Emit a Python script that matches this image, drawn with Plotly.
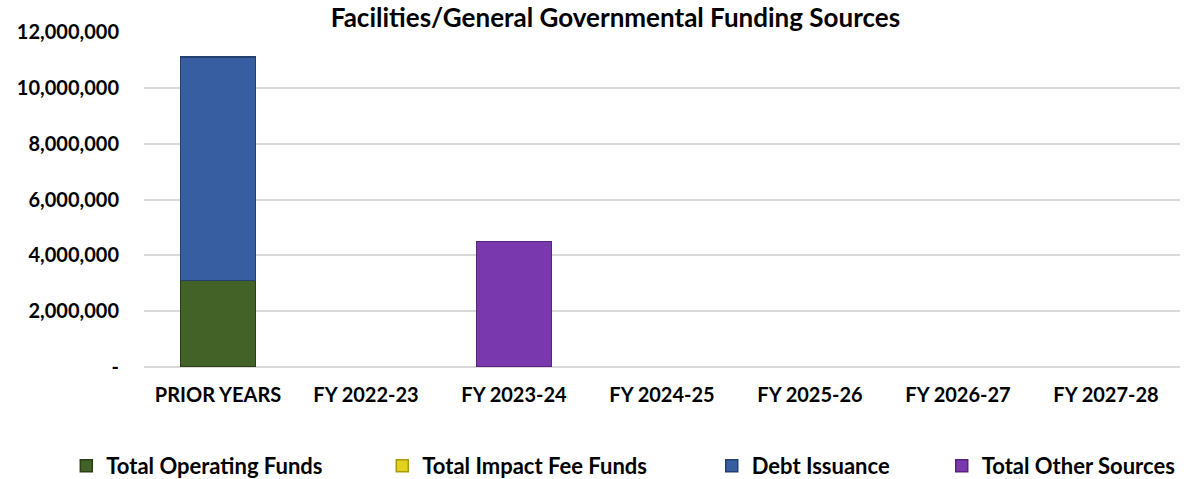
import plotly.graph_objects as go

categories = ["PRIOR YEARS", "FY 2022-23", "FY 2023-24", "FY 2024-25", "FY 2025-26", "FY 2026-27", "FY 2027-28"]
operating = [3100000, 0, 0, 0, 0, 0, 0]
impact_fee = [0, 0, 0, 0, 0, 0, 0]
debt = [8000000, 0, 0, 0, 0, 0, 0]
other = [0, 0, 4500000, 0, 0, 0, 0]

tick_vals = [0, 2000000, 4000000, 6000000, 8000000, 10000000, 12000000]
tick_text = ["-", "2,000,000", "4,000,000", "6,000,000", "8,000,000", "10,000,000", "12,000,000"]

FONT = "Lato, 'Open Sans', sans-serif"

series = [
    ("Total Operating Funds", operating, "#436227", "#2B3F18", "legend"),
    ("Total Impact Fee Funds", impact_fee, "#E3D21C", "#A89A10", "legend2"),
    ("Debt Issuance", debt, "#385EA2", "#24406F", "legend3"),
    ("Total Other Sources", other, "#7A38AE", "#5A2283", "legend4"),
]

fig = go.Figure()
for name, vals, col, line, lg in series:
    fig.add_trace(go.Bar(
        x=categories, y=[v if v else None for v in vals], name="<b>%s</b>" % name,
        marker=dict(color=col, line=dict(color=line, width=1.5)),
        legend=lg,
    ))

leg_x = [-0.075, 0.230, 0.548, 0.770]
leg_common = dict(orientation="h", y=0.027, yref="container", yanchor="middle", xanchor="left",
                  font=dict(family=FONT, size=22, color="#000000"),
                  itemwidth=30, bgcolor="rgba(0,0,0,0)")

fig.update_layout(
    barmode="stack",
    bargap=0.49,
    width=1188, height=479,
    margin=dict(l=144, r=8, t=32, b=112),
    plot_bgcolor="white", paper_bgcolor="white",
    title=dict(text="<b>Facilities/General Governmental Funding Sources</b>",
               x=0.518, xref="container", xanchor="center", y=0.962, yref="container", yanchor="middle",
               font=dict(family=FONT, size=26, color="#000000")),
    xaxis=dict(tickfont=dict(family=FONT, size=20, color="#000000"),
               showline=False, ticks="", ticklabelstandoff=14,
               tickvals=categories, ticktext=["<b>%s</b>" % c for c in categories]),
    yaxis=dict(range=[0, 12000000], tickvals=tick_vals, ticktext=["<b>%s</b>" % t for t in tick_text],
               tickfont=dict(family=FONT, size=20, color="#000000"),
               showgrid=True, gridcolor="#D9D9D9", gridwidth=1.5, zeroline=True,
               zerolinecolor="#D9D9D9", zerolinewidth=1.5, ticks="", ticklabelstandoff=24),
    legend=dict(x=leg_x[0], **leg_common),
    legend2=dict(x=leg_x[1], **leg_common),
    legend3=dict(x=leg_x[2], **leg_common),
    legend4=dict(x=leg_x[3], **leg_common),
    showlegend=True,
)
fig.write_html("out.html", config={"displayModeBar": False},
               post_script="document.body.style.margin='0px';")
